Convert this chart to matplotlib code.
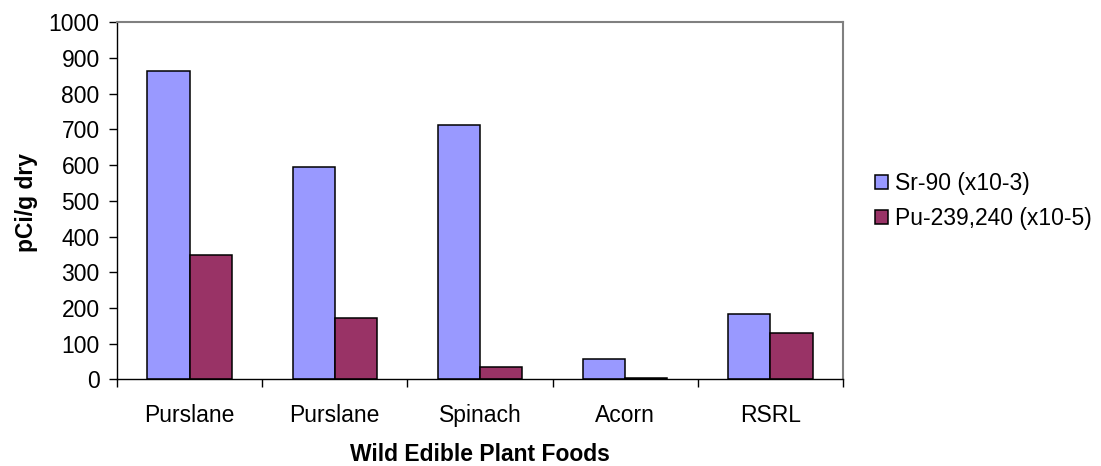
import matplotlib
matplotlib.use('Agg')
import numpy as np
import matplotlib.pyplot as plt
from matplotlib.patches import Patch

plt.rcParams['font.family'] = ['Liberation Sans', 'DejaVu Sans']

# ── data ──────────────────────────────
foods = ['Purslane', 'Purslane', 'Spinach', 'Acorn', 'RSRL']
sr90 = [864, 594, 713, 56, 182]        # Sr-90 (x10-3)
pu239 = [348, 171, 34, 4, 130]         # Pu-239,240 (x10-5)
series_names = ['Sr-90 (x10-3)', 'Pu-239,240 (x10-5)']
y_ticks = list(range(0, 1001, 100))
# ──────────────────────────────────────

SR_COLOR = '#9999FF'
PU_COLOR = '#993366'
FS = 16.5
W, H = 1101, 466

fig = plt.figure(figsize=(W / 100, H / 100), dpi=100)
ax = fig.add_axes([117 / W, 1 - 379.3 / H, (843 - 117) / W, (379.3 - 22.3) / H])

x = np.arange(len(foods))
bw = 0.291
ax.bar(x, sr90, width=-bw, align='edge', color=SR_COLOR, edgecolor='black', linewidth=1.1, zorder=2)
ax.bar(x, pu239, width=bw, align='edge', color=PU_COLOR, edgecolor='black', linewidth=1.1, zorder=2)

ax.set_xlim(-0.5, len(foods) - 0.5)
ax.set_ylim(0, 1000)
ax.set_yticks(y_ticks)
ax.tick_params(axis='y', direction='out', length=5.5, width=1, pad=7, labelsize=FS)

# category separators as major ticks, names as minor ticks
ax.set_xticks(np.arange(-0.5, len(foods), 1.0))
ax.set_xticklabels([])
ax.set_xticks(x, minor=True)
ax.set_xticklabels(foods, minor=True)
ax.tick_params(axis='x', which='major', direction='out', length=6, width=1)
ax.tick_params(axis='x', which='minor', length=0, pad=18, labelsize=FS)

for s in ['left', 'bottom']:
    ax.spines[s].set_color('black')
    ax.spines[s].set_linewidth(1.0)
for s in ['top', 'right']:
    ax.spines[s].set_color('#808080')
    ax.spines[s].set_linewidth(1.5)

fig.text(480 / W, 1 - 461 / H, 'Wild Edible Plant Foods', ha='center', va='baseline',
         fontsize=FS, fontweight='bold')
fig.text(27 / W, 1 - 202 / H, 'pCi/g dry', rotation=90, ha='center', va='center',
         fontsize=FS, fontweight='bold')

handles = [Patch(facecolor=SR_COLOR, edgecolor='black', linewidth=1.1),
           Patch(facecolor=PU_COLOR, edgecolor='black', linewidth=1.1)]
fig.legend(handles, series_names, loc='center left', bbox_to_anchor=(866 / W, 1 - 201 / H),
           frameon=False, fontsize=FS, handlelength=0.57, handleheight=0.57,
           handletextpad=0.3, labelspacing=0.55, borderaxespad=0)

fig.savefig('out.png', dpi=100)
